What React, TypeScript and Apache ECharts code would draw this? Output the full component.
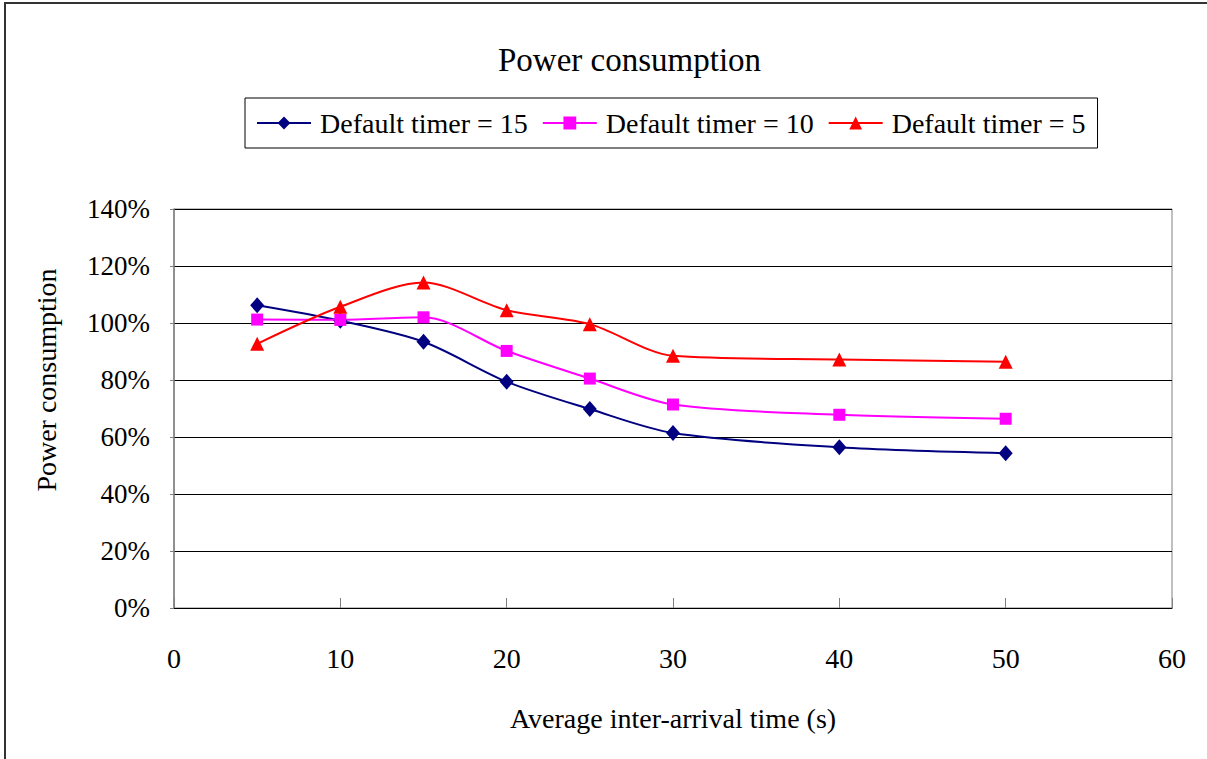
import React, { useEffect, useRef } from "react";
import * as echarts from "echarts";

const xValues = [5, 10, 15, 20, 25, 30, 40, 50];
const timer15 = [106.2, 100.8, 93.4, 79.4, 69.8, 61.4, 56.4, 54.3];
const timer10 = [101.2, 101.1, 102.0, 90.2, 80.5, 71.4, 67.8, 66.4];
const timer5 = [92.7, 105.7, 114.2, 104.5, 99.6, 88.5, 87.2, 86.4];
const seriesNames = ["Default timer = 15", "Default timer = 10", "Default timer = 5"];

const FONT = "'Liberation Serif', 'Times New Roman', serif";

export default function App() {
  const ref = useRef<HTMLDivElement>(null);
  useEffect(() => {
    if (!ref.current) return;
    const chart = echarts.init(ref.current, undefined, { renderer: "svg" });
    const pair = (ys: number[]) => xValues.map((x, i) => [x, ys[i]]);
    chart.setOption({
      animation: false,
      backgroundColor: "#fff",
      textStyle: { fontFamily: FONT, color: "#000" },
      title: {
        text: "Power consumption",
        left: 498,
        top: 43,
        padding: 0,
        textStyle: { fontFamily: FONT, fontSize: 33, fontWeight: "normal", color: "#000" },
      },
      legend: {
        left: 245,
        top: 98,
        orient: "horizontal",
        borderColor: "#000",
        borderWidth: 1,
        padding: [11, 12, 11, 11],
        itemWidth: 54,
        itemHeight: 16,
        itemGap: 14,
        data: seriesNames,
        textStyle: { fontFamily: FONT, fontSize: 28, color: "#000", padding: [0, 0, 0, 4] },
      },
      grid: {
        left: 174,
        right: 35,
        top: 209,
        bottom: 151,
        show: true,
        borderColor: "#808080",
        borderWidth: 1,
      },
      xAxis: {
        type: "value",
        min: 0,
        max: 60,
        interval: 10,
        name: "Average inter-arrival time (s)",
        nameLocation: "middle",
        nameGap: 96,
        nameTextStyle: { fontFamily: FONT, fontSize: 28, color: "#000" },
        axisLine: { show: true, lineStyle: { color: "#000", width: 1 } },
        axisTick: { show: true, inside: true, length: 10, lineStyle: { color: "#808080" } },
        axisLabel: { fontFamily: FONT, fontSize: 28, color: "#000", margin: 36 },
        splitLine: { show: false },
      },
      yAxis: {
        type: "value",
        min: 0,
        max: 140,
        interval: 20,
        axisLine: { show: true, lineStyle: { color: "#808080", width: 1.5 } },
        axisTick: { show: true, inside: false, length: 4, lineStyle: { color: "#808080" } },
        axisLabel: {
          fontFamily: FONT,
          fontSize: 27,
          color: "#000",
          margin: 24,
          formatter: (v: number) => v + "%",
        },
        splitLine: { show: true, lineStyle: { color: "#000", width: 1 } },
      },
      graphic: [
        {
          type: "rect",
          shape: { x: 5, y: 3, width: 1400, height: 1000 },
          style: { fill: "none", stroke: "#333", lineWidth: 2 },
          silent: true,
        },
        {
          type: "text",
          x: 46,
          y: 380,
          rotation: Math.PI / 2,
          style: {
            text: "Power consumption",
            fontFamily: FONT,
            fontSize: 28,
            fill: "#000",
            textAlign: "center",
            textVerticalAlign: "middle",
          },
        },
      ],
      series: [
        {
          name: seriesNames[0],
          type: "line",
          data: pair(timer15),
          smooth: 0.3,
          symbol: "diamond",
          symbolSize: [14, 16],
          itemStyle: { color: "#000080" },
          lineStyle: { color: "#000080", width: 2 },
        },
        {
          name: seriesNames[1],
          type: "line",
          data: pair(timer10),
          smooth: 0.3,
          symbol: "rect",
          symbolSize: 12,
          itemStyle: { color: "#FF00FF" },
          lineStyle: { color: "#FF00FF", width: 2 },
        },
        {
          name: seriesNames[2],
          type: "line",
          data: pair(timer5),
          smooth: 0.3,
          symbol: "triangle",
          symbolSize: 14,
          itemStyle: { color: "#FF0000" },
          lineStyle: { color: "#FF0000", width: 2 },
        },
      ],
    });
    return () => chart.dispose();
  }, []);
  return (
    <div
      ref={ref}
      style={{ position: "absolute", left: 0, top: 0, width: 1207, height: 759 }}
    />
  );
}
